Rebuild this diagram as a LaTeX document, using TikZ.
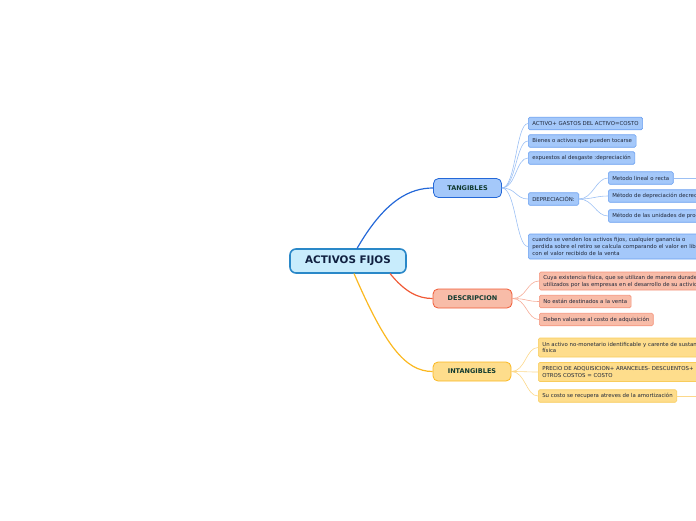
\documentclass[tikz,border=0pt]{standalone}
\usepackage{fontspec}
\setmainfont{DejaVu Sans}
\begin{document}
\begin{tikzpicture}[x=1pt,y=-1pt,
  root/.style={draw=rootb, fill=rootf, line width=1.6pt, rounded corners=6pt, minimum width=116pt, minimum height=24pt, font=\fontsize{10.4}{12}\selectfont\bfseries, text=roott},
  branch/.style={draw=#1b, fill=#1f, line width=0.8pt, rounded corners=5pt, minimum height=19pt, font=\fontsize{6.5}{8}\selectfont\bfseries, text=brt, inner xsep=2pt},
  child/.style={draw=#1c, fill=#1f, line width=0.6pt, rounded corners=1.5pt, minimum height=12.5pt, font=\fontsize{5.4}{6.8}\selectfont, text=cht, inner xsep=4pt, inner ysep=2pt, anchor=west, align=left},
  conn/.style={draw=#1l, line width=0.6pt},
  mainconn/.style={draw=#1b, line width=1.2pt}
]
\definecolor{rootb}{HTML}{2A88C8}
\definecolor{rootf}{HTML}{C8ECFC}
\definecolor{roott}{HTML}{102040}
\definecolor{brt}{HTML}{103A30}
\definecolor{cht}{HTML}{20283A}
\definecolor{blueb}{HTML}{2468D8}
\definecolor{bluef}{HTML}{A4C8FA}
\definecolor{bluec}{HTML}{6AA0F0}
\definecolor{bluel}{HTML}{9CC0F4}
\definecolor{redb}{HTML}{F05A36}
\definecolor{redf}{HTML}{F8BCA8}
\definecolor{redc}{HTML}{F4947C}
\definecolor{redl}{HTML}{F6AC98}
\definecolor{yelb}{HTML}{FBB820}
\definecolor{yelf}{HTML}{FEDD8C}
\definecolor{yelc}{HTML}{F8CC5C}
\definecolor{yell}{HTML}{FCD88A}
\useasboundingbox (0,0) rectangle (696,520);
\clip (0,0) rectangle (696,520);

% root and branches
\node[root] (root) at (348,261) {ACTIVOS FIJOS};
\node[branch=blue, minimum width=68pt] (tan) at (467.5,188) {TANGIBLES};
\node[branch=red, minimum width=79pt] (des) at (472.5,298.5) {DESCRIPCION};
\node[branch=yel, minimum width=78pt] (int) at (472,371.5) {INTANGIBLES};

\draw[mainconn=blue] (357,248.5) .. controls (385,200) and (410,188) .. (tan.west);
\draw[mainconn=red] (390,273.5) .. controls (405,292) and (418,298.5) .. (des.west);
\draw[mainconn=yel] (354,273.5) .. controls (385,345) and (405,371.5) .. (int.west);

% tangibles children
\node[child=blue] (t1) at (528,123.5) {ACTIVO+ GASTOS DEL ACTIVO=COSTO};
\node[child=blue] (t2) at (528,141) {Bienes o activos que pueden tocarse};
\node[child=blue] (t3) at (528,158) {expuestos al desgaste :depreciación};
\node[child=blue] (t4) at (528,199) {DEPRECIACIÓN:};
\node[child=blue, text width=200pt, minimum height=25pt, inner ysep=2.5pt] (t5) at (528,246.5) {cuando se venden los activos fijos, cualquier ganancia o\\perdida sobre el retiro se calcula comparando el valor en libros\\con el valor recibido de la venta};

\node[child=blue] (m1) at (608,178) {Metodo lineal o recta};
\node[child=blue] (m2) at (608,196) {Método de depreciación decreciente};
\node[child=blue] (m3) at (608,216) {Método de las unidades de producción};
\coordinate (m1r) at (720,178);

\foreach \c in {t1,t2,t3,t4,t5}
  \draw[conn=blue] (tan.east) .. controls +(14,0) and ([xshift=-12pt]\c.west) .. (\c.west);
\foreach \c in {m1,m2,m3}
  \draw[conn=blue] (t4.east) .. controls +(14,0) and ([xshift=-12pt]\c.west) .. (\c.west);
\draw[conn=blue] (m1.east) -- (m1r);

% descripcion children
\node[child=red, text width=200pt, minimum height=18pt] (d1) at (539,281) {Cuya existencia física, que se utilizan de manera duradera\\utilizados por las empresas en el desarrollo de su actividad};
\node[child=red] (d2) at (539,301.5) {No están destinados a la venta};
\node[child=red] (d3) at (539,319.5) {Deben valuarse al costo de adquisición};
\foreach \c in {d1,d2,d3}
  \draw[conn=red] (des.east) .. controls +(14,0) and ([xshift=-12pt]\c.west) .. (\c.west);

% intangibles children
\node[child=yel, text width=200pt, minimum height=19pt] (i1) at (538,347.5) {Un activo no-monetario identificable y carente de sustancia\\física};
\node[child=yel, text width=200pt, minimum height=19pt] (i2) at (538,372) {PRECIO DE ADQUISICION+ ARANCELES- DESCUENTOS+\\OTROS COSTOS = COSTO};
\node[child=yel] (i3) at (538,396) {Su costo se recupera atreves de la amortización};
\coordinate (i3r) at (720,396);
\foreach \c in {i1,i2,i3}
  \draw[conn=yel] (int.east) .. controls +(14,0) and ([xshift=-12pt]\c.west) .. (\c.west);
\draw[conn=yel] (i3.east) -- (i3r);
\end{tikzpicture}
\end{document}
